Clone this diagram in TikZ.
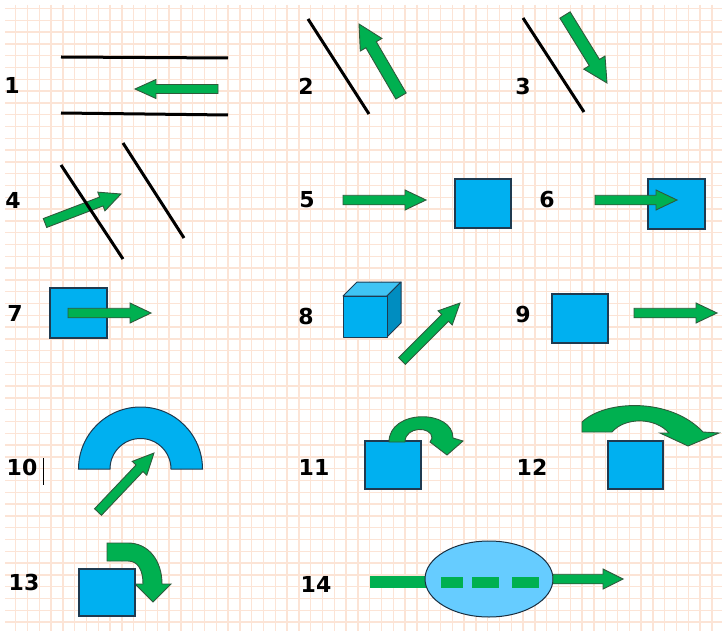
\documentclass[tikz,border=0pt]{standalone}
\usepackage{fontspec}
\setmainfont{DejaVu Sans}
\usetikzlibrary{calc, shapes.geometric}
\definecolor{verdeflecha}{HTML}{00B050}
\definecolor{bordeverde}{HTML}{2F5A3C}
\definecolor{azulcuadro}{HTML}{00B0F0}
\definecolor{bordeazul}{HTML}{1F3A50}
\definecolor{azulclaro}{HTML}{66CCFF}
\definecolor{durazno}{HTML}{FCE4D6}
\colorlet{colRejilla}{durazno}
\colorlet{colTapa}{azulcuadro!75!white}
\colorlet{colLado}{azulcuadro!80!black}
\tikzset{
  rejilla/.style={colRejilla, line width=1.5pt},
  linea/.style={black, line width=3pt},
  etiqueta/.style={font=\fontsize{22}{26}\selectfont\bfseries, text=black, inner sep=0pt},
  cuadro/.style={draw=bordeazul, fill=azulcuadro, line width=1.2pt,
    minimum width=56pt, minimum height=49pt, inner sep=0pt},
  caraCubo/.style={draw=bordeazul, line width=1pt, line join=round},
  flechaVerde/.style={draw=bordeverde, fill=verdeflecha, line width=0.9pt, line join=miter},
  barraVerde/.style={fill=verdeflecha},
  asta/.store in=\asta, punta/.store in=\punta, largo/.store in=\largo,
  asta=4.75, punta=10, largo=21,
}
% flecha de bloque entre dos coordenadas con nombre
\newcommand{\flechaBloque}[3][]{%
  \path let \p1=($(#3)-(#2)$) in
    \pgfextra{\pgfmathsetmacro{\angT}{atan2(\y1,\x1)}%
      \pgfmathsetmacro{\lonT}{veclen(\x1,\y1)}%
      \xdef\angF{\angT}\xdef\lonF{\lonT}};
  \begin{scope}[shift={(#2)}, rotate=\angF, #1]
    \draw[flechaVerde] (0,-\asta) -- ({\lonF-\largo},-\asta) -- ({\lonF-\largo},-\punta)
      -- (\lonF,0) -- ({\lonF-\largo},\punta) -- ({\lonF-\largo},\asta) -- (0,\asta) -- cycle;
  \end{scope}}

\begin{document}
\begin{tikzpicture}[x=1pt, y=-1pt]
  \useasboundingbox (0,0) rectangle (722,631);
  \fill[white] (0,0) rectangle (722,631);
  % rejilla de fondo
  \foreach \i in {0,...,59}
    \draw[rejilla] ({15.7+11.8*\i},5) -- ({15.7+11.8*\i},631);
  \foreach \j in {0,...,52}
    \draw[rejilla] (5,{8.5+11.8*\j}) -- (722,{8.5+11.8*\j});

  % numeros
  \node[etiqueta] (n1) at (12,85) {1};
  \node[etiqueta] (n2) at (306,86) {2};
  \node[etiqueta] (n3) at (523,86) {3};
  \node[etiqueta] (n4) at (13,200) {4};
  \node[etiqueta] (n5) at (307,200) {5};
  \node[etiqueta] (n6) at (547,200) {6};
  \node[etiqueta] (n7) at (15,313) {7};
  \node[etiqueta] (n8) at (306,316) {8};
  \node[etiqueta] (n9) at (523,315) {9};
  \node[etiqueta] (n10) at (22,467) {10};
  \node[etiqueta] (n11) at (314,467) {11};
  \node[etiqueta] (n12) at (532,467) {12};
  \node[etiqueta] (n13) at (24,582) {13};
  \node[etiqueta] (n14) at (316,584) {14};
  \draw[black, line width=0.8pt] (43,458) -- (43,485);

  % 1
  \draw[linea] (61,57) -- (228,58);
  \draw[linea] (61,113) -- (228,115);
  \coordinate (a1i) at (218,89);
  \coordinate (a1f) at (135,89);
  \flechaBloque[asta=4.5, punta=9.5]{a1i}{a1f}

  % 2 y 3
  \draw[linea] (308,19) -- (369,114);
  \coordinate (a2i) at (401,96);
  \coordinate (a2f) at (359,24);
  \flechaBloque[asta=6, punta=12.5, largo=24]{a2i}{a2f}
  \draw[linea] (523,18) -- (584,112);
  \coordinate (a3i) at (565,15);
  \coordinate (a3f) at (607,83);
  \flechaBloque[asta=6, punta=12.5, largo=24]{a3i}{a3f}

  % 4
  \coordinate (a4i) at (45,223);
  \coordinate (a4f) at (121,194);
  \flechaBloque{a4i}{a4f}
  \draw[linea] (61,165) -- (123,259);
  \draw[linea] (123,143) -- (184,238);

  % 5 y 6
  \coordinate (a5i) at (343,200);
  \coordinate (a5f) at (426,200);
  \flechaBloque{a5i}{a5f}
  \node[cuadro] (c5) at (483,203.5) {};
  \node[cuadro, minimum width=57pt, minimum height=50pt] (c6) at (676.5,204) {};
  \coordinate (a6i) at (595,200);
  \coordinate (a6f) at (677,200);
  \flechaBloque{a6i}{a6f}

  % 7
  \node[cuadro, minimum width=57pt, minimum height=50pt] (c7) at (78.5,313) {};
  \coordinate (a7i) at (68,313);
  \coordinate (a7f) at (151,313);
  \flechaBloque{a7i}{a7f}

  % 8: cubo
  \draw[caraCubo, fill=colTapa] (343,296) -- (357,282) -- (401,282) -- (387,296) -- cycle;
  \draw[caraCubo, fill=colLado] (387,296) -- (401,282) -- (401,323) -- (387,337) -- cycle;
  \draw[caraCubo, fill=azulcuadro] (343,296) rectangle (387,337);
  \coordinate (a8i) at (402,361);
  \coordinate (a8f) at (460,303);
  \flechaBloque{a8i}{a8f}

  % 9
  \node[cuadro] (c9) at (580,318.5) {};
  \coordinate (a9i) at (634,313);
  \coordinate (a9f) at (717,313);
  \flechaBloque{a9i}{a9f}

  % 10: arco
  \draw[draw=bordeazul, fill=azulcuadro, line width=1pt]
    (78.5,469) arc[start angle=180, end angle=360, radius=62]
    -- (171,469) arc[start angle=0, end angle=-180, radius=30.5] -- cycle;
  \coordinate (a10i) at (98,512);
  \coordinate (a10f) at (154,453);
  \flechaBloque{a10i}{a10f}

  % 11
  \node[cuadro, minimum height=48pt] (c11) at (393,465) {};
  \draw[flechaVerde] (389,442) .. controls (389,409) and (453,409) .. (453,438)
    -- (463,441) -- (447,455) -- (430,442) -- (432,438)
    .. controls (432,426) and (405,426) .. (405,442) -- cycle;

  % 12
  \draw[flechaVerde] (582,422) .. controls (605,400) and (670,397) .. (703,432)
    -- (719,433) -- (688,446) -- (660,433) -- (669,433)
    .. controls (655,417) and (625,417) .. (612,432) -- (582,432) -- cycle;
  \node[cuadro, minimum width=55pt, minimum height=48pt] (c12) at (635.5,465) {};

  % 13
  \draw[flechaVerde] (107,543) -- (128,543) .. controls (148,543) and (162,560) .. (162,584)
    -- (171,584) -- (153,602) -- (135,584) -- (143,584)
    .. controls (143,570) and (138,561) .. (128,561) -- (107,561) -- cycle;
  \node[cuadro, minimum height=47pt] (c13) at (107,592.5) {};

  % 14
  \fill[barraVerde] (370,576) rectangle (430,588);
  \node[ellipse, draw=bordeazul!80!black, fill=azulclaro, line width=1pt,
    minimum width=128pt, minimum height=76pt, inner sep=0pt] (e14) at (489,579) {};
  \fill[barraVerde] (441,577) rectangle (463,588);
  \fill[barraVerde] (472,577) rectangle (499,588);
  \fill[barraVerde] (512,577) rectangle (539,588);
  \coordinate (a14i) at (553,579);
  \coordinate (a14f) at (623,579);
  \flechaBloque[largo=20]{a14i}{a14f}
\end{tikzpicture}
\end{document}
